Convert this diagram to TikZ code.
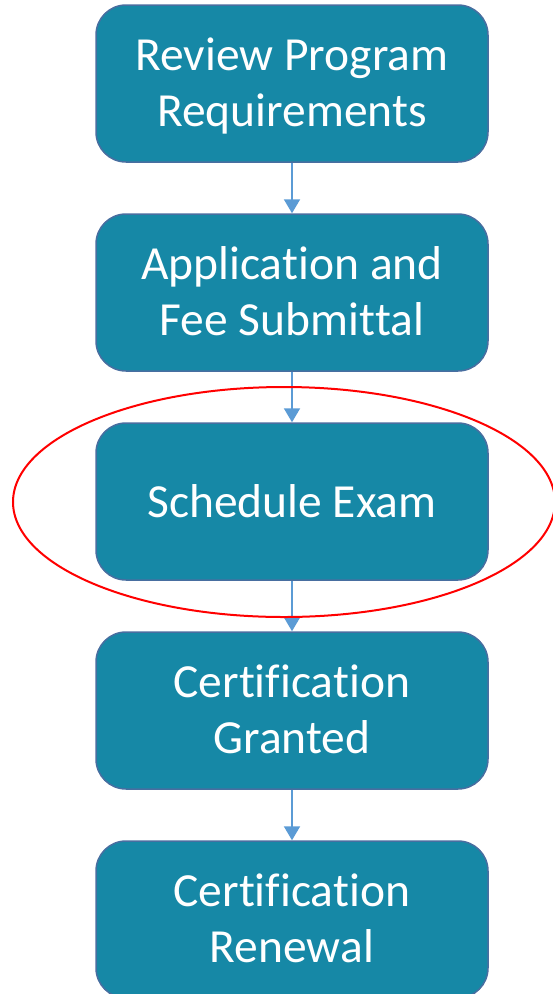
\documentclass[tikz,border=0pt]{standalone}
\usepackage{fontspec}
\setmainfont[Ligatures={NoCommon,NoContextual}]{Carlito}
\usetikzlibrary{arrows.meta}
\definecolor{boxfill}{RGB}{22,136,166}
\definecolor{boxline}{RGB}{72,110,160}
\definecolor{arrowc}{RGB}{91,155,213}
\definecolor{ringc}{RGB}{255,0,0}
\newcommand{\twolines}[1]{\raisebox{13.5pt}[0pt][0pt]{\begin{tabular}[t]{@{}c@{}}#1\end{tabular}}}
\newcommand{\oneline}[1]{\raisebox{-15.5pt}[0pt][0pt]{#1}}
\newcommand{\nolig}{\kern0pt }
\begin{document}
\begin{tikzpicture}[x=1pt,y=-1pt,
  stepbox/.style={draw=boxline, line width=1.5pt, fill=boxfill, rounded corners=30pt,
    minimum width=392pt, minimum height=157pt, text=white, align=center,
    font=\fontsize{47.5}{56.5}\selectfont, inner sep=0pt},
  flow/.style={draw=arrowc, line width=2pt, -{Triangle[width=16pt,length=14pt]}}]
\useasboundingbox (0,0) rectangle (553,994);
\clip (0,0) rectangle (553,994);
\node[stepbox] (s1) at (292,83.5) {\twolines{Review Program\\Requirements}};
\node[stepbox] (s2) at (292,292.5) {\twolines{Applica\nolig tion and\\Fee Submit\nolig tal}};
\node[stepbox] (s3) at (292,501.5) {\oneline{Schedule Exam}};
\node[stepbox] (s4) at (292,710.5) {\twolines{Certifica\nolig tion\\Granted}};
\node[stepbox] (s5) at (292,919.5) {\twolines{Certifica\nolig tion\\Renewal}};
\draw[flow] (s1.south) -- (s2.north);
\draw[flow] (s2.south) -- (s3.north);
\draw[flow] (s3.south) -- (s4.north);
\draw[flow] (s4.south) -- (s5.north);
\draw[ringc, line width=2pt] (284,502) ellipse [x radius=271, y radius=115];
\end{tikzpicture}
\end{document}
